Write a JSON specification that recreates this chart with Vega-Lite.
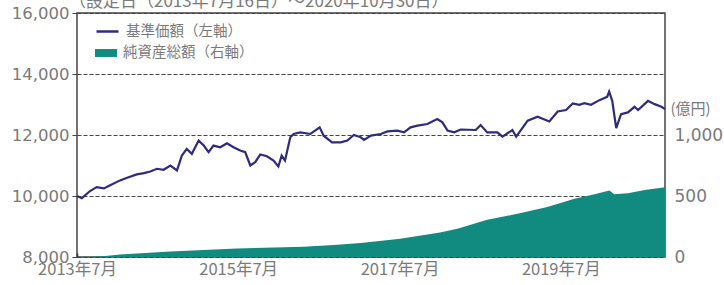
{
  "$schema": "https://vega.github.io/schema/vega-lite/v6.json",
  "width": 588,
  "height": 244,
  "autosize": {"type": "none"},
  "padding": {"left": 77, "top": 13, "right": 59, "bottom": 28},
  "background": "white",
  "title": {
    "text": "（設定日（2013年7月16日）～2020年10月30日）",
    "anchor": "start",
    "frame": "group",
    "baseline": "bottom",
    "offset": -23,
    "dx": -8,
    "font": "Noto Sans CJK JP",
    "fontSize": 17,
    "fontWeight": "normal",
    "color": "#7a7a7a"
  },
  "config": {
    "view": {"stroke": "#444444", "strokeWidth": 1.5},
    "axis": {"labelFont": "DejaVu Sans", "labelColor": "#7a7a7a", "titleFont": "Noto Sans CJK JP", "titleColor": "#7a7a7a", "titleFontWeight": "normal"},
    "legend": {"labelFont": "Noto Sans CJK JP", "labelFontSize": 14.5, "labelColor": "#7a7a7a", "padding": 0, "title": null}
  },
  "datasets": {
    "nav": [
      {"date": "2013-07-16", "nav": 10000},
      {"date": "2013-08-07", "nav": 9930},
      {"date": "2013-09-13", "nav": 10163},
      {"date": "2013-10-13", "nav": 10293},
      {"date": "2013-11-15", "nav": 10250},
      {"date": "2013-12-13", "nav": 10349},
      {"date": "2014-01-27", "nav": 10512},
      {"date": "2014-02-28", "nav": 10600},
      {"date": "2014-04-13", "nav": 10707},
      {"date": "2014-05-15", "nav": 10750},
      {"date": "2014-06-13", "nav": 10805},
      {"date": "2014-07-13", "nav": 10893},
      {"date": "2014-08-12", "nav": 10860},
      {"date": "2014-09-12", "nav": 11000},
      {"date": "2014-10-12", "nav": 10838},
      {"date": "2014-11-03", "nav": 11327},
      {"date": "2014-11-25", "nav": 11545},
      {"date": "2014-12-18", "nav": 11382},
      {"date": "2015-01-18", "nav": 11816},
      {"date": "2015-02-10", "nav": 11653},
      {"date": "2015-03-04", "nav": 11435},
      {"date": "2015-03-26", "nav": 11653},
      {"date": "2015-04-26", "nav": 11597},
      {"date": "2015-05-26", "nav": 11728},
      {"date": "2015-06-25", "nav": 11597},
      {"date": "2015-07-25", "nav": 11490},
      {"date": "2015-08-17", "nav": 11435},
      {"date": "2015-09-09", "nav": 11000},
      {"date": "2015-10-01", "nav": 11108},
      {"date": "2015-10-24", "nav": 11359},
      {"date": "2015-11-23", "nav": 11304},
      {"date": "2015-12-23", "nav": 11164},
      {"date": "2016-01-14", "nav": 10968},
      {"date": "2016-01-29", "nav": 11327},
      {"date": "2016-02-13", "nav": 11164},
      {"date": "2016-03-08", "nav": 11924},
      {"date": "2016-03-23", "nav": 12034},
      {"date": "2016-04-22", "nav": 12086},
      {"date": "2016-06-07", "nav": 12034},
      {"date": "2016-07-19", "nav": 12250},
      {"date": "2016-08-06", "nav": 11978},
      {"date": "2016-09-13", "nav": 11760},
      {"date": "2016-10-22", "nav": 11760},
      {"date": "2016-11-21", "nav": 11816},
      {"date": "2016-12-21", "nav": 12000},
      {"date": "2017-01-21", "nav": 11924},
      {"date": "2017-02-05", "nav": 11838},
      {"date": "2017-03-08", "nav": 11978},
      {"date": "2017-04-22", "nav": 12034},
      {"date": "2017-05-22", "nav": 12119},
      {"date": "2017-07-06", "nav": 12142},
      {"date": "2017-08-05", "nav": 12086},
      {"date": "2017-09-04", "nav": 12250},
      {"date": "2017-10-05", "nav": 12305},
      {"date": "2017-11-19", "nav": 12360},
      {"date": "2018-01-03", "nav": 12523},
      {"date": "2018-01-26", "nav": 12414},
      {"date": "2018-02-18", "nav": 12142},
      {"date": "2018-03-20", "nav": 12086},
      {"date": "2018-04-19", "nav": 12180},
      {"date": "2018-06-26", "nav": 12164},
      {"date": "2018-07-18", "nav": 12327},
      {"date": "2018-08-17", "nav": 12086},
      {"date": "2018-10-02", "nav": 12086},
      {"date": "2018-10-25", "nav": 11946},
      {"date": "2018-12-09", "nav": 12164},
      {"date": "2018-12-26", "nav": 11946},
      {"date": "2019-02-16", "nav": 12468},
      {"date": "2019-04-02", "nav": 12599},
      {"date": "2019-05-25", "nav": 12446},
      {"date": "2019-07-02", "nav": 12773},
      {"date": "2019-08-09", "nav": 12817},
      {"date": "2019-09-08", "nav": 13033},
      {"date": "2019-10-08", "nav": 12990},
      {"date": "2019-10-31", "nav": 13044},
      {"date": "2019-11-30", "nav": 12990},
      {"date": "2020-01-07", "nav": 13143},
      {"date": "2020-02-11", "nav": 13250},
      {"date": "2020-02-20", "nav": 13424},
      {"date": "2020-03-05", "nav": 13120},
      {"date": "2020-03-23", "nav": 12229},
      {"date": "2020-04-14", "nav": 12686},
      {"date": "2020-05-15", "nav": 12741},
      {"date": "2020-06-14", "nav": 12925},
      {"date": "2020-06-30", "nav": 12817},
      {"date": "2020-08-14", "nav": 13120},
      {"date": "2020-09-13", "nav": 13012},
      {"date": "2020-10-14", "nav": 12925},
      {"date": "2020-10-30", "nav": 12850}
    ],
    "aum": [
      {"date": "2013-07-16", "aum": 0},
      {"date": "2013-10-30", "aum": 5},
      {"date": "2014-01-27", "aum": 20},
      {"date": "2014-09-12", "aum": 45},
      {"date": "2015-07-10", "aum": 70},
      {"date": "2016-05-08", "aum": 85},
      {"date": "2016-10-08", "aum": 100},
      {"date": "2017-01-21", "aum": 115},
      {"date": "2017-07-19", "aum": 150},
      {"date": "2018-01-15", "aum": 200},
      {"date": "2018-04-04", "aum": 232},
      {"date": "2018-08-17", "aum": 305},
      {"date": "2019-01-16", "aum": 360},
      {"date": "2019-05-16", "aum": 410},
      {"date": "2019-09-16", "aum": 478},
      {"date": "2019-12-16", "aum": 515},
      {"date": "2020-02-21", "aum": 545},
      {"date": "2020-03-14", "aum": 515},
      {"date": "2020-05-15", "aum": 522},
      {"date": "2020-07-30", "aum": 550},
      {"date": "2020-10-30", "aum": 572}
    ]
  },
  "encoding": {
    "x": {
      "field": "date", "type": "temporal",
      "scale": {"type": "utc", "nice": false, "domain": [{"year": 2013, "month": 7, "date": 16, "utc": true}, {"year": 2020, "month": 10, "date": 30, "utc": true}]},
      "axis": {
        "title": null,
        "domain": false,
        "grid": false,
        "values": [{"year": 2013, "month": 7, "date": 16, "utc": true}, {"year": 2015, "month": 7, "date": 16, "utc": true}, {"year": 2017, "month": 7, "date": 16, "utc": true}, {"year": 2019, "month": 7, "date": 16, "utc": true}],
        "labelExpr": "utcFormat(datum.value, '%Y') + '年' + (utcmonth(datum.value) + 1) + '月'",
        "labelFont": "Noto Sans CJK JP",
        "labelFontSize": 16.5,
        "tickSize": -4,
        "tickColor": "#333333",
        "tickWidth": 1.5,
        "labelPadding": 8,
        "labelFlush": false,
        "labelOverlap": false
      }
    }
  },
  "layer": [
    {
      "data": {"name": "aum"},
      "mark": {"type": "area", "interpolate": "linear"},
      "encoding": {
        "y": {
          "field": "aum", "type": "quantitative",
          "scale": {"domain": [0, 2000], "nice": false, "zero": true},
          "axis": {
            "orient": "right",
            "values": [0, 500, 1000],
            "format": ",d",
            "grid": false,
            "domain": false,
            "ticks": false,
            "labelPadding": 9,
            "labelFontSize": 17,
            "labelBaseline": "middle",
            "title": "(億円)",
            "titleAngle": 0,
            "titleAlign": "left",
            "titleBaseline": "middle",
            "titleX": 5,
            "titleY": 95,
            "titleFontSize": 15
          }
        },
        "fill": {
          "datum": "純資産総額（右軸）",
          "scale": {"range": ["#118a80"]},
          "legend": {
            "orient": "none",
            "legendX": 18,
            "legendY": 29,
            "symbolType": "M-1,-0.36H1V0.36H-1Z",
            "symbolSize": 484,
            "symbolStrokeWidth": 0,
            "labelOffset": 6
          }
        }
      }
    },
    {
      "data": {"name": "nav"},
      "mark": {"type": "line", "color": "#2e2c7e", "strokeWidth": 2.2},
      "encoding": {
        "y": {
          "field": "nav", "type": "quantitative",
          "scale": {"domain": [8000, 16000], "nice": false, "zero": false},
          "axis": {
            "orient": "left",
            "values": [8000, 10000, 12000, 14000, 16000],
            "format": ",d",
            "title": null,
            "domain": false,
            "grid": true,
            "gridDash": [4, 2],
            "gridColor": "#444444",
            "gridWidth": 1,
            "tickSize": 5,
            "tickColor": "#444444",
            "labelPadding": 3,
            "labelFontSize": 16.5,
            "labelBaseline": "middle"
          }
        },
        "stroke": {
          "datum": "基準価額（左軸）",
          "scale": {"range": ["#2e2c7e"]},
          "legend": {
            "orient": "none",
            "legendX": 18,
            "legendY": 6,
            "symbolType": "stroke",
            "symbolSize": 484,
            "symbolStrokeWidth": 2.5,
            "labelOffset": 6
          }
        }
      }
    }
  ],
  "resolve": {"scale": {"y": "independent"}}
}
